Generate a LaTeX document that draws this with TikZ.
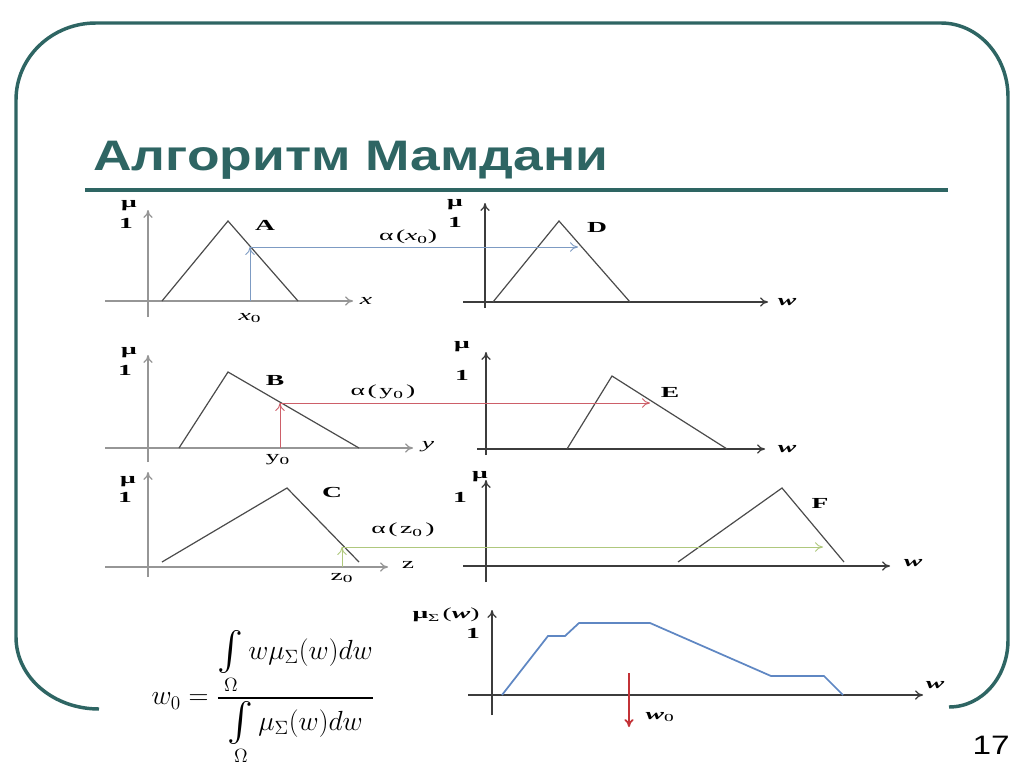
\documentclass[tikz,border=0pt]{standalone}
\usepackage{fontspec}
\usepackage{amsmath}
\usepackage{graphicx}
\setmainfont{Liberation Serif}
\newfontfamily\plotfont[FakeStretch=1.8]{Liberation Serif}
\newfontfamily\titlefont[FakeStretch=1.25]{Liberation Sans}
\newcommand{\bigintop}{\mathop{\vcenter{\hbox{\scalebox{1.4}{$\int$}}}}\limits}
\usetikzlibrary{arrows.meta}
\definecolor{frame}{RGB}{46,101,99}
\definecolor{axisl}{RGB}{150,150,150}
\definecolor{axisd}{RGB}{60,60,60}
\definecolor{tri}{RGB}{75,75,75}
\definecolor{cutblue}{RGB}{125,155,195}
\definecolor{cutred}{RGB}{205,95,105}
\definecolor{cutgreen}{RGB}{175,200,125}
\definecolor{sumblue}{RGB}{95,135,195}
\definecolor{wred}{RGB}{195,50,55}
\tikzset{
	lbl/.style={font=\plotfont\fontsize{11.5}{13}\selectfont, inner sep=0pt},
	trig/.style={tri, line width=0.9pt},
	cut/.style={->, line width=0.7pt},
}
\begin{document}
\begin{tikzpicture}[x=0.75pt,y=-0.75pt,>={To[length=6pt,width=7pt]}]
		\useasboundingbox[fill=white] (0,0) rectangle (1024,767);
		\draw[frame, line width=2.6pt] (99,709) .. controls (53,709) and (16,677) .. (16,637) -- (16,100) .. controls (16,57) and (52,23) .. (96,23) -- (941,23) .. controls (978,23) and (1008,56) .. (1008,97) -- (1008,640) .. controls (1008,677) and (982,707) .. (949,707);
		\draw[frame, line width=3pt] (85,190) -- (948,190);
		\node[anchor=base west, text=frame, inner sep=0pt, font=\titlefont\bfseries\fontsize{32}{36}\selectfont] (title) at (93,170) {Алгоритм Мамдани};
		\node[anchor=base east, inner sep=0pt, font=\titlefont\fontsize{20}{24}\selectfont] (page) at (1010,754) {17};
		
		\foreach \ox/\ytop/\ybot/\oy/\xl/\xr/\col in {148/210/317/301/105/353/axisl, 485/203/308/302/463/768/axisd, 148/355/462/448/105/413/axisl, 486/352/455/449/477/765/axisd, 148/472/577/567/105/388/axisl, 486/480/582/566/463/890/axisd, 492/610/715/695/468/923/axisd}{
			\draw[->, \col, line width=0.9pt] (\ox,\ybot) -- (\ox,\ytop);
			\draw[->, \col, line width=0.9pt] (\xl,\oy) -- (\xr,\oy);
		}
		
		\draw[trig] (162,301) -- (228,221) -- (298,301);
		\draw[trig] (493,302) -- (559,221) -- (630,302);
		\draw[trig] (179,448) -- (228,372) -- (359,448);
		\draw[trig] (567,449) -- (612,376) -- (727,449);
		\draw[trig] (162,562) -- (287,488) -- (359,562);
		\draw[trig] (678,562) -- (782,488) -- (844,562);
		
		\coordinate (x0) at (250,301);
		\coordinate (ax) at (250,247);
		\coordinate (ad) at (578,247);
		\coordinate (y0) at (280,448);
		\coordinate (ay) at (280,403);
		\coordinate (ae) at (650,403);
		\coordinate (z0) at (342,567);
		\coordinate (az) at (342,547);
		\coordinate (af) at (823,547);
		\draw[cut, cutblue] (x0) -- (ax);
		\draw[cut, cutblue] (ax) -- (ad);
		\draw[cut, cutred] (y0) -- (ay);
		\draw[cut, cutred] (ay) -- (ae);
		\draw[cut, cutgreen] (z0) -- (az);
		\draw[cut, cutgreen] (az) -- (af);
		
		\draw[sumblue, line width=1.3pt] (502,695) -- (548,636) -- (565,636) -- (579,623) -- (650,623) -- (771,676) -- (824,676) -- (843,695);
		\coordinate (wtop) at (629,673);
		\coordinate (wbot) at (629,727);
		\draw[->, wred, line width=1.3pt] (wtop) -- (wbot);
		
		\foreach \n/\mx/\my/\ix/\iy in {a/129/206/126/223, d/455/205/455/222, b/129/353/125/370, e/462/347/462/375, c/128/482/125/497, f/480/477/460/497}{
			\node[lbl] (mu-\n) at (\mx,\my) {\textbf{μ}};
			\node[lbl] (one-\n) at (\ix,\iy) {\textbf{1}};
		}
		\foreach \n/\px/\py in {A/265/225, D/597/227, B/275/380, E/670/392, C/332/492, F/820/503}{
			\node[lbl] (set-\n) at (\px,\py) {\textbf{\n}};
		}
		\node[lbl] (lx) at (366,301) {\textit{x}};
		\node[lbl] (ly) at (428,447) {\textit{y}};
		\node[lbl] (lz) at (408,565) {z};
		\node[lbl] (lx0) at (250,318) {\textit{x}\textsubscript{0}};
		\node[lbl] (ly0) at (278,460) {y\textsubscript{0}};
		\node[lbl] (lz0) at (342,578) {z\textsubscript{0}};
		\node[lbl] (alx) at (408,237) {α\,(\textit{x}\textsubscript{0})};
		\node[lbl] (aly) at (383,392) {α\,(\,y\textsubscript{0}\,)};
		\node[lbl] (alz) at (403,530) {α\,(\,z\textsubscript{0}\,)};
		\foreach \n/\px/\py in {d/787/302, e/787/449, f/913/563, s/935/685}{
			\node[lbl] (w-\n) at (\px,\py) {\textbf{\textit{w}}};
		}
		\node[lbl] (musum) at (446,615) {\textbf{μ}\textsubscript{Σ}\,(\textbf{\textit{w}})};
		\node[lbl] (one-s) at (473,633) {\textbf{1}};
		\node[lbl] (lw0) at (660,717) {\textbf{\textit{w}}\textsubscript{0}};
		
		\node[inner sep=0pt, font=\fontsize{22}{26}\selectfont] (formula) at (263,698) {$w_0=\dfrac{\bigintop_\Omega w\mu_\Sigma(w)dw}{\bigintop_\Omega \mu_\Sigma(w)dw}$};
\end{tikzpicture}
\end{document}
